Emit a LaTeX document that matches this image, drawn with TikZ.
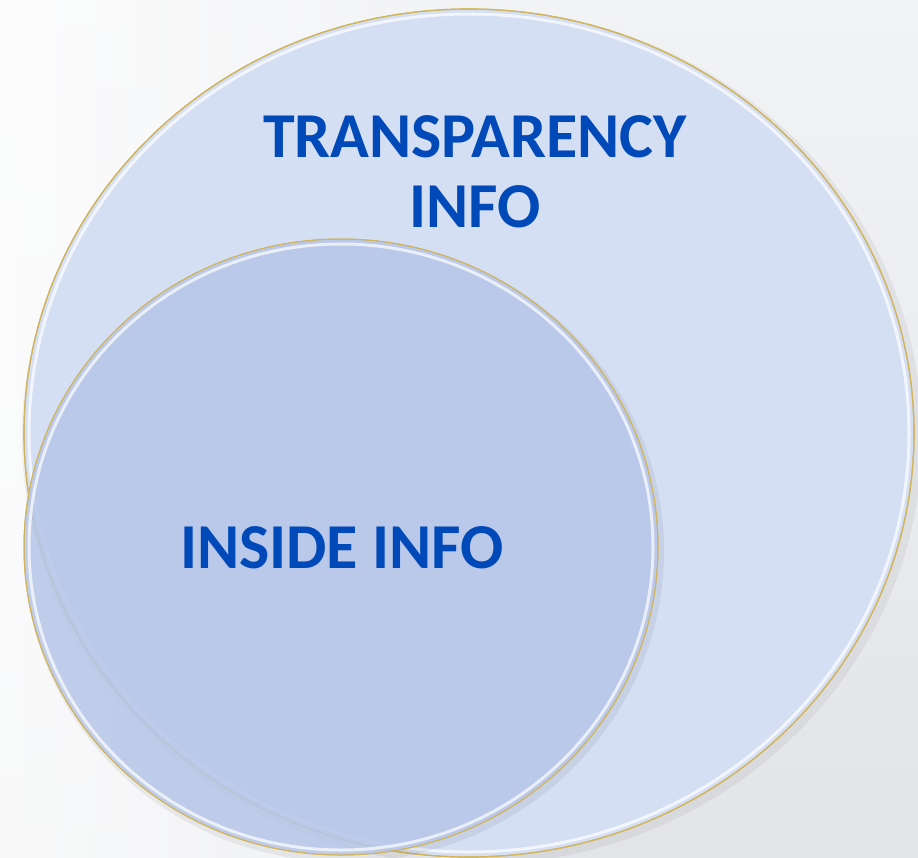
\documentclass[tikz,border=0pt]{standalone}
\usepackage{fontspec}
\setmainfont{Carlito}
\usetikzlibrary{shadings}
\definecolor{bgA}{HTML}{F2F3F5}
\definecolor{bgB}{HTML}{E2E4E8}
\definecolor{bigfill}{HTML}{D4DFF4}
\definecolor{smallfill}{HTML}{B8C8EA}
\definecolor{rim}{HTML}{D2B45C}
\definecolor{txtblue}{HTML}{0049B8}
\tikzset{
  circbig/.style={draw=rim, line width=1.2pt, fill=bigfill},
  circsmall/.style={draw=rim, line width=1pt, fill=smallfill, fill opacity=0.85},
  glow/.style={draw=white, line width=3pt, opacity=0.7},
  lbl/.style={font=\fontsize{64}{70}\selectfont\bfseries, text=txtblue, align=center, inner sep=0pt}
}
\begin{document}
\begin{tikzpicture}[x=1pt,y=-1pt]
\useasboundingbox (0,0) rectangle (918,857);
% background
\shade[top color=bgA, bottom color=bgB] (0,0) rectangle (918,857);
\shade[left color=white, right color=bgA, opacity=0.8] (0,0) rectangle (459,857);
% big circle shadow
\fill[black, opacity=0.05] (472,437) ellipse [x radius=450, y radius=428];
% big circle
\path[circbig] (469,433) ellipse [x radius=445, y radius=424];
\draw[glow] (469,433) ellipse [x radius=440, y radius=419];
\draw[rim, line width=1.2pt] (469,433) ellipse [x radius=445, y radius=424];
% small circle
\fill[black, opacity=0.06] (344,551) ellipse [x radius=320, y radius=311];
\path[circsmall] (341,547) ellipse [x radius=317, y radius=308];
\draw[glow] (341,547) ellipse [x radius=312, y radius=303];
\draw[rim, line width=1pt] (341,547) ellipse [x radius=317, y radius=308];
% labels
\node[lbl] (transp) at (475,172) {TRANSPARENCY\\INFO};
\node[lbl] (inside) at (342,548) {INSIDE INFO};
\end{tikzpicture}
\end{document}
